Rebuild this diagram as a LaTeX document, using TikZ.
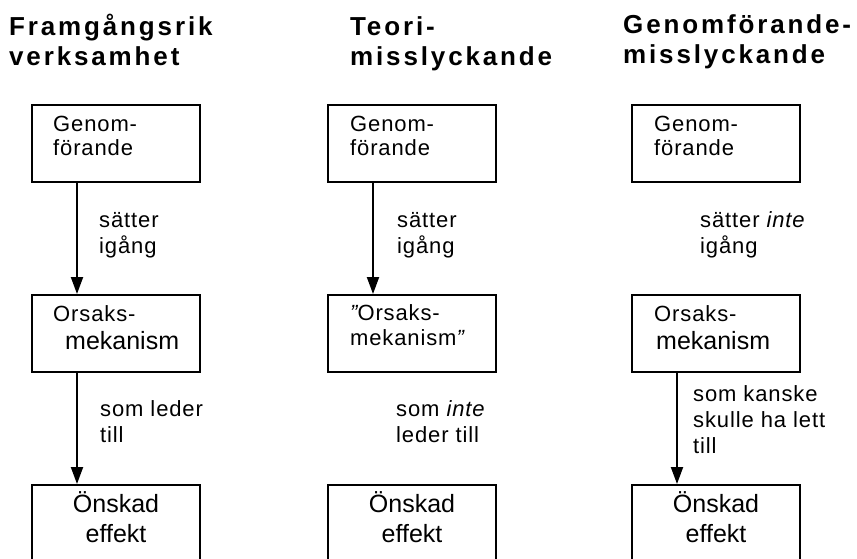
\documentclass[tikz,border=0pt]{standalone}
\usepackage{fontspec}
\setmainfont{Liberation Sans}[LetterSpace=4]
\newfontfamily\headfont{Liberation Sans}[LetterSpace=11]
\newfontfamily\storfont{Liberation Sans}
\usepackage{tikz}
\usetikzlibrary{arrows.meta}
\usetikzlibrary{positioning}

\begin{document}
\begin{tikzpicture}[x=1pt, y=-1pt,
    box/.style={draw, line width=2pt, minimum width=168pt, minimum height=77pt, inner sep=0pt},
    rubrik/.style={anchor=base west, align=left, inner sep=0pt, font=\headfont\bfseries\fontsize{26}{30}\selectfont},
    btext/.style={anchor=base west, align=left, inner sep=0pt, font=\fontsize{22}{23.5}\selectfont},
    stor/.style={inner sep=0pt, font=\storfont\fontsize{25}{30}\selectfont},
    pil/.style={line width=2pt, -{Triangle[length=17pt, width=12pt]}},
    piltext/.style={anchor=base west, align=left, inner sep=0pt, font=\fontsize{22}{26}\selectfont}]

    \useasboundingbox (0,0) rectangle (857,558);
    \clip (0,0) rectangle (857,558);

    % Framgångsrik verksamhet
    \node[rubrik] (r1) at (9,65) {Framgångsrik\\verksamhet};
    \node[box] (g1) at (116,143.5) {};
    \node[btext] (g1t) at (53,155) {Genom-\\förande};
    \node[box] (o1) at (116,333.5) {};
    \node[btext] (o1t) at (53,321.7) {Orsaks-};
    \node[stor, anchor=base west] (o1m) at (65,349) {mekanism};
    \node[box] (e1) at (116,523.5) {};
    \node[stor, anchor=base, align=center] (e1t) at (116,542) {Önskad\\effekt};
    \draw[pil] ([xshift=46pt]g1.south west) -- ([xshift=46pt]o1.north west);
    \draw[pil] ([xshift=46pt]o1.south west) -- ([xshift=46pt]e1.north west);
    \node[piltext] (p1a) at (99,253) {sätter\\igång};
    \node[piltext] (p1b) at (100,442) {som leder\\till};

    % Teorimisslyckande
    \begin{scope}[xshift=296pt]
    \node[rubrik] (r2) at (54,65) {Teori-\\misslyckande};
    \node[box] (g2) at (116,143.5) {};
    \node[btext] (g2t) at (54,155) {Genom-\\förande};
    \node[box] (o2) at (116,333.5) {};
    \node[btext] (o2t) at (54,345) {{\itshape"}Orsaks-\\[1.5pt]mekanism{\itshape"}};
    \node[box] (e2) at (116,523.5) {};
    \node[stor, anchor=base, align=center] (e2t) at (116,542) {Önskad\\effekt};
    \draw[pil] ([xshift=46pt]g2.south west) -- ([xshift=46pt]o2.north west);
    \node[piltext] (p2a) at (101,253) {sätter\\igång};
    \node[piltext] (p2b) at (100,442) {som \textit{inte}\\leder till};
    \end{scope}

    % Genomförandemisslyckande
    \begin{scope}[xshift=600pt]
    \node[rubrik] (r3) at (23,63) {Genomförande-\\misslyckande};
    \node[box] (g3) at (116,143.5) {};
    \node[btext] (g3t) at (54,155) {Genom-\\förande};
    \node[box] (o3) at (116,333.5) {};
    \node[btext] (o3t) at (54,321.7) {Orsaks-};
    \node[stor, anchor=base west] (o3m) at (56,349) {mekanism};
    \node[box] (e3) at (116,523.5) {};
    \node[stor, anchor=base, align=center] (e3t) at (116,542) {Önskad\\effekt};
    \draw[pil] ([xshift=46pt]o3.south west) -- ([xshift=46pt]e3.north west);
    \node[piltext] (p3a) at (100,253) {sätter \textit{inte}\\igång};
    \node[piltext] (p3b) at (93,453) {som kanske\\skulle ha lett\\till};
    \end{scope}
\end{tikzpicture}
\end{document}
